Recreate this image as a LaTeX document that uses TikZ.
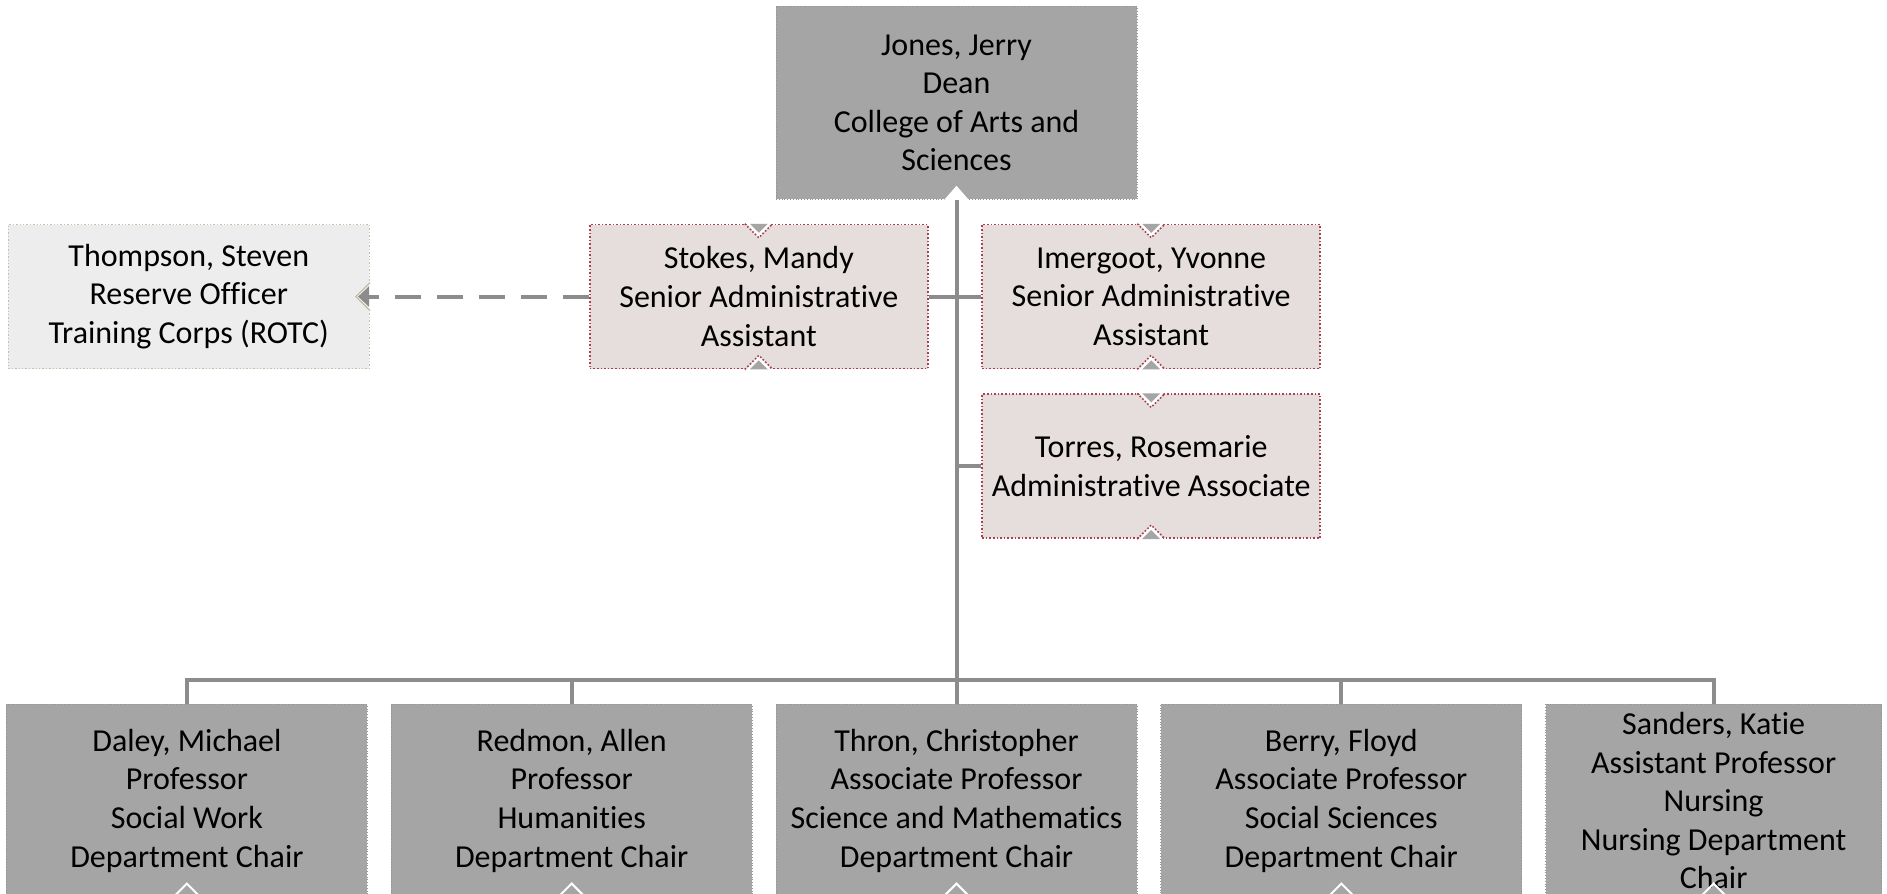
\documentclass[tikz,border=0pt]{standalone}
\usepackage{fontspec}
\setmainfont{Carlito}[Ligatures={NoCommon,NoRare}]
\usetikzlibrary{calc,positioning,arrows.meta}
\definecolor{chartgray}{HTML}{A5A5A5}
\definecolor{chartedge}{HTML}{939393}
\definecolor{wirecolor}{HTML}{8C8C8C}
\definecolor{assistfill}{HTML}{E6DEDD}
\definecolor{assistedge}{HTML}{A8404F}
\definecolor{rotcfill}{HTML}{EDEDED}
\definecolor{rotcedge}{HTML}{C4C0AC}
\tikzset{>=Stealth}

\begin{document}
\begin{tikzpicture}[
    every node/.style={align=center, inner sep=0pt,
      font=\fontsize{16pt}{19.3pt}\selectfont},
    staffbox/.style={draw=chartedge, fill=chartgray, densely dotted,
      minimum width=180.5pt, minimum height=96.5pt},
    assistbox/.style={draw=assistedge, fill=assistfill, densely dotted,
      line width=0.8pt, minimum width=169pt, minimum height=72pt},
    rotcbox/.style={draw=rotcedge, fill=rotcfill, densely dotted,
      line width=0.7pt, minimum width=180.5pt, minimum height=72pt},
    wire/.style={draw=wirecolor, line width=2pt}
  ]
  \useasboundingbox (0,0) rectangle (943.5pt,-447pt);
  \clip (0,0) rectangle (943.5pt,-447pt);

  \node [staffbox, anchor=north] (jones) at (478.25pt,-3pt)
    {Jones, Jerry\\Dean\\College of Arts and\\Sciences};

  \node [assistbox,
    below left=12pt and -76.5pt of jones
  ] (stokes) {Stokes, Mandy\\Senior Administrative\\Assistant};

  \node [assistbox,
    below right=12pt and -78pt of jones
  ] (imergoot) {Imergoot, Yvonne\\Senior Administrative\\Assistant};

  \node [assistbox,
    below=12pt of imergoot
  ] (torres) {Torres, Rosemarie\\Administrative Associate};

  \node [rotcbox,
    left=109.5pt of stokes
  ] (thompson) {Thompson, Steven\\Reserve Officer\\Training Corps (ROTC)};

  \node [staffbox,
    below=252pt of jones
  ] (thron) {Thron, Christopher\\Associate Professor\\Science and Mathematics\\Department Chair};

  \node [staffbox,
    left=11.5pt of thron
  ] (redmon) {Redmon, Allen\\Professor\\Humanities\\Department Chair};

  \node [staffbox,
    left=11.5pt of redmon
  ] (daley) {Daley, Michael\\Professor\\Social Work\\Department Chair};

  \node [staffbox,
    right=11.5pt of thron
  ] (berry) {Berry, Floyd\\Associate Professor\\Social Sciences\\Department Chair};

  \node [staffbox, minimum width=168pt,
    right=11.5pt of berry
  ] (sanders) {Sanders, Katie\\Assistant Professor\\Nursing\\Nursing Department\\Chair};

  % notches on the box edges
  \fill[white] ([xshift=-7pt,yshift=-1pt]jones.south) -- ([yshift=7pt]jones.south)
    -- ([xshift=7pt,yshift=-1pt]jones.south) -- cycle;
  \foreach \n in {daley,redmon,thron,berry,sanders} {
    \draw[white, line width=1pt] ([xshift=-7pt]\n.south) -- ([yshift=7pt]\n.south)
      -- ([xshift=7pt]\n.south);
  }
  \foreach \n in {stokes,imergoot,torres} {
    \fill[white] ([xshift=-7pt,yshift=1pt]\n.north) -- ([yshift=-7pt]\n.north)
      -- ([xshift=7pt,yshift=1pt]\n.north) -- cycle;
    \draw[assistedge, densely dotted, line width=0.8pt] ([xshift=-7pt]\n.north)
      -- ([yshift=-7pt]\n.north) -- ([xshift=7pt]\n.north);
    \fill[chartgray] ([xshift=-4.5pt]\n.north) -- ([yshift=-4.5pt]\n.north)
      -- ([xshift=4.5pt]\n.north) -- cycle;
    \fill[white] ([xshift=-7pt,yshift=-1pt]\n.south) -- ([yshift=7pt]\n.south)
      -- ([xshift=7pt,yshift=-1pt]\n.south) -- cycle;
    \draw[assistedge, densely dotted, line width=0.8pt] ([xshift=-7pt]\n.south)
      -- ([yshift=7pt]\n.south) -- ([xshift=7pt]\n.south);
    \fill[chartgray] ([xshift=-4.5pt]\n.south) -- ([yshift=4.5pt]\n.south)
      -- ([xshift=4.5pt]\n.south) -- cycle;
  }
  \fill[white] ([xshift=1pt,yshift=-7pt]thompson.east) -- ([xshift=-7pt]thompson.east)
    -- ([xshift=1pt,yshift=7pt]thompson.east) -- cycle;
  \draw[rotcedge, line width=0.7pt] ([yshift=-7pt]thompson.east)
    -- ([xshift=-7pt]thompson.east) -- ([yshift=7pt]thompson.east);

  % connectors
  \draw[wire] (jones.south) -- (thron.north);
  \draw[wire] (stokes.east) -- (stokes.east -| jones.south);
  \draw[wire] (imergoot.west) -- (imergoot.west -| jones.south);
  \draw[wire] (torres.west) -- (torres.west -| jones.south);
  \draw[wire] (daley.north) -- ++(0,12pt) -| (sanders.north);
  \draw[wire] (redmon.north) -- ++(0,12pt);
  \draw[wire] (berry.north) -- ++(0,12pt);
  \draw[wire, dash pattern=on 13pt off 8pt,
    -{Triangle[length=5.5pt,width=10pt,fill=wirecolor]}]
    (stokes.west) -- ([xshift=-6pt]thompson.east);
\end{tikzpicture}
\end{document}
